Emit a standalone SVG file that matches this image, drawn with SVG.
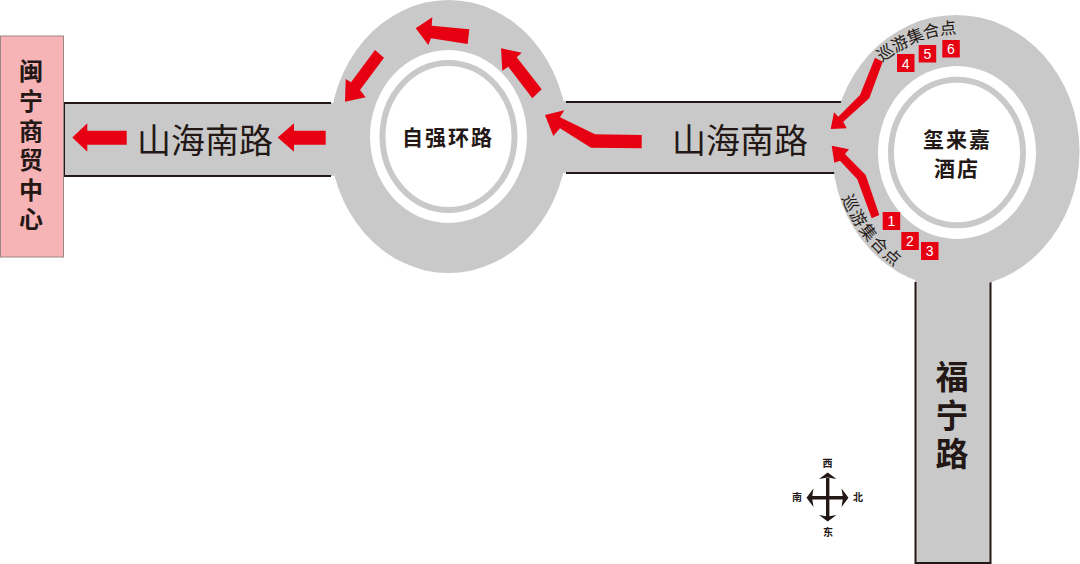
<svg xmlns="http://www.w3.org/2000/svg" width="1080" height="564" viewBox="0 0 1080 564">
<style>
text{font-family:"Noto Sans CJK SC","Liberation Sans",sans-serif;fill:#231815;text-anchor:middle;dominant-baseline:central}
.road{fill:#c9c9c9}
.edge{fill:none;stroke:#231815;stroke-width:2}
.arrow{fill:#e60012}
.ring{fill:#fff}
.band{fill:#fff;stroke:#c9c9c9;stroke-width:6}
.b{font-weight:700}
.v{writing-mode:vertical-rl;text-orientation:upright}
.road-label{font-size:34px;font-weight:400}
.stop{fill:#e60012}
.num{font-family:"Liberation Sans",sans-serif;font-size:14px;fill:#fff}
.meet{font-size:16.500px;font-weight:400;letter-spacing:0.600px}
.dir{font-size:10px;font-weight:700}
.cmp{fill:#231815}
</style>
<defs>
<path id="meetTop" d="M874 60Q918 24.500 962 27"/>
<path id="meetBottom" d="M846 190Q861.400 233.500 904 265"/>
</defs>
<g id="road-west"><rect class="road" x="64" y="103" width="270" height="73"/><path class="edge" d="M331 103H64V176H331"/></g>
<g id="road-middle"><rect class="road" x="560" y="101" width="290" height="72"/><path class="edge" d="M566 102H843M566 173H836"/></g>
<g id="road-funing"><rect class="road" x="915" y="270" width="76" height="293"/><path class="edge" d="M915.500 282V563H990.500V282"/></g>
<g id="destination"><rect x="0.500" y="36" width="63" height="221" fill="#f7b4b6" stroke="#9a8585"/>
<text class="b v" font-size="24" letter-spacing="5.600" x="31" y="148">闽宁商贸中心</text></g>
<g id="ziqiang-roundabout"><ellipse class="road" cx="448.500" cy="136.500" rx="119" ry="136.500"/><ellipse class="ring" cx="448.500" cy="136.500" rx="78.500" ry="86.500"/><ellipse class="band" cx="448.500" cy="136.500" rx="66" ry="73.500"/>
<text class="b" font-size="21" x="448" y="136" letter-spacing="2">自强环路</text></g>
<g id="hotel-roundabout"><ellipse class="road" cx="956" cy="151.500" rx="123.500" ry="136.500"/><ellipse class="ring" cx="957" cy="152.500" rx="79" ry="86.500"/><ellipse class="band" cx="957" cy="152.500" rx="66" ry="72.700"/>
<text class="b" font-size="21" x="957.500" y="138" letter-spacing="2">玺来嘉</text><text class="b" font-size="21" x="957" y="167" letter-spacing="2">酒店</text></g>
<g id="labels">
<text class="road-label" x="205" y="138.500">山海南路</text>
<text class="road-label" x="740" y="138.500">山海南路</text>
<text class="b v" font-size="33" letter-spacing="5.500" x="952" y="418">福宁路</text>
</g>
<g id="connectors">
<polygon class="arrow" points="875,57.700 882.700,61.700 869.300,98.300 843.300,121.700 846.700,128.300 830.700,129 834,112.300 838.300,116.700 860,95"/>
<polygon class="arrow" points="879.300,215 871.700,218.300 857.300,179.300 840,160.700 834.300,162.700 831.700,145.700 849,149.300 845,154 865.700,175"/>
<polygon class="arrow" points="641.700,135 641.700,148.300 591,147.700 560,128.300 553.300,136 545,115 564.300,110.300 560,117.300 595,134.300"/>
<polygon class="arrow" points="541.700,89.300 532.300,98.300 508.300,66.700 502.300,70.700 501,48.300 521.700,52.700 516.700,57.300"/>
<polygon class="arrow" points="469.300,29.300 467.700,44 431,38.300 428.300,45 415.700,28.300 432.300,17.300 431.700,25.700"/>
<polygon class="arrow" points="375,50 384,57.700 360,90 365.700,97.300 345,101.700 345.700,79 351,82.300"/>
<polygon class="arrow" points="126.700,130.700 126.700,144.700 87.300,144.700 87.300,151.700 72.300,137.500 87.300,123.300 87.300,130.700"/>
<polygon class="arrow" points="325.700,130.700 325.700,144.700 294,144.700 294,151.700 277.700,137.500 294,123.300 294,130.700"/>
</g>
<g id="meeting-point-south"><text class="meet"><textPath href="#meetBottom" startOffset="50%">巡游集合点</textPath></text>
<rect class="stop" x="882.700" y="212" width="17.500" height="18"/><text class="num" x="891.500" y="221">1</text>
<rect class="stop" x="901.300" y="232" width="17.500" height="18"/><text class="num" x="910" y="240.500">2</text>
<rect class="stop" x="921" y="242" width="17.500" height="18"/><text class="num" x="929.700" y="251">3</text></g>
<g id="meeting-point-north"><text class="meet"><textPath href="#meetTop" startOffset="50%">巡游集合点</textPath></text>
<rect class="stop" x="897" y="54" width="17.500" height="18"/><text class="num" x="905.700" y="63.500">4</text>
<rect class="stop" x="918.700" y="45" width="17.500" height="17.500"/><text class="num" x="927.400" y="54">5</text>
<rect class="stop" x="942.300" y="40" width="17.500" height="17.500"/><text class="num" x="951" y="48.500">6</text></g>
<g id="compass">
<path class="cmp" d="M826 478H829.400V496H843V499.400H829.400V517H826V499.400H812V496H826Z"/>
<polygon class="cmp" points="827.700,472.500 836.500,479 827.700,477.500 819,479"/>
<polygon class="cmp" points="827.700,521.500 836.500,515 827.700,516.500 819,515"/>
<polygon class="cmp" points="806.500,497.700 813.500,488.500 812,497.700 813.500,507"/>
<polygon class="cmp" points="848.500,497.700 841.500,488.500 843,497.700 841.500,507"/>
<text class="dir" x="827.500" y="462.500">西</text><text class="dir" x="828" y="531">东</text><text class="dir" x="797" y="496.500">南</text><text class="dir" x="858" y="496.500">北</text>
</g>
</svg>
